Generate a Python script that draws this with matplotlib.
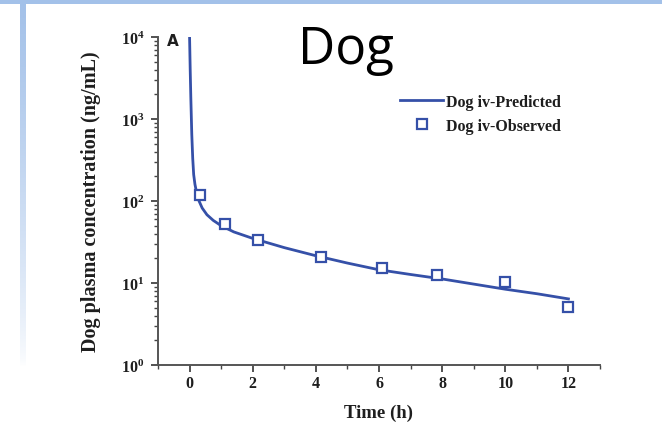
import numpy as np
import matplotlib
matplotlib.use("Agg")
import matplotlib.pyplot as plt
from matplotlib.ticker import LogLocator, MultipleLocator, FixedLocator, NullFormatter

plt.rcParams["mathtext.fontset"] = "custom"
plt.rcParams["mathtext.bf"] = "Liberation Serif:bold"
plt.rcParams["mathtext.rm"] = "Liberation Serif:bold"
plt.rcParams["mathtext.it"] = "Liberation Serif:bold"

# Observed dog plasma concentrations after iv dosing
obs_time = [0.33, 1.13, 2.16, 4.15, 6.1, 7.83, 10.0, 12.0]
obs_conc = [118, 53, 33, 20.5, 15.4, 12.4, 10.4, 5.1]

# Model-predicted profile
pred_time = [0, 0.02, 0.04, 0.07, 0.1, 0.13, 0.17, 0.22, 0.3, 0.4, 0.55, 0.75,
             1.0, 1.4, 2.0, 3.0, 4.0, 5.0, 6.0, 7.0, 8.0, 9.0, 10.0, 11.0, 12.0]
pred_conc = [10000, 4000, 1800, 650, 330, 210, 160, 128, 100, 82, 68, 58,
             50, 42, 35, 27, 21.5, 17.5, 14.5, 12.7, 11.2, 9.7, 8.4, 7.4, 6.4]

x_ticks = [0, 2, 4, 6, 8, 10, 12]
y_ticks = [1, 10, 100, 1000, 10000]
y_tick_labels = [r"$\mathbf{10^{0}}$", r"$\mathbf{10^{1}}$", r"$\mathbf{10^{2}}$",
                 r"$\mathbf{10^{3}}$", r"$\mathbf{10^{4}}$"]

BLUE = "#3550a8"
SLIDE_BLUE = "#a3c1e9"
TEXT = "#1e1e1e"
W, H = 662, 427

fig = plt.figure(figsize=(W / 100, H / 100), dpi=100)
fig.patch.set_facecolor("white")

# Slide decoration: top band and fading left bar
bg = fig.add_axes([0, 0, 1, 1])
bg.set_xlim(0, W)
bg.set_ylim(H, 0)
bg.axis("off")
bg.add_patch(plt.Rectangle((0, 0), W, 4.5, color=SLIDE_BLUE, lw=0))
grad = np.linspace(0, 1, 256).reshape(-1, 1)
rgb = np.array(matplotlib.colors.to_rgb(SLIDE_BLUE))
img = np.ones((256, 1, 4))
img[..., :3] = rgb
img[..., 3] = (1 - grad) ** 0.7
bg.imshow(img, extent=(20, 26, 368, 4), aspect="auto", interpolation="bilinear")

serif = "Liberation Serif"
ax = fig.add_axes([158 / W, 1 - 366 / H, 442 / W, 328 / H])
ax.set_yscale("log")
ax.set_xlim(-1, 13)
ax.set_ylim(1, 10000)

ax.plot(pred_time, pred_conc, color=BLUE, lw=2, solid_joinstyle="round",
        label="Dog iv-Predicted", zorder=3)
ax.plot(obs_time, obs_conc, ls="none", marker="s", ms=7.5, mfc="white",
        mec=BLUE, mew=1.6, label="Dog iv-Observed", zorder=4)

for s in ["top", "right"]:
    ax.spines[s].set_visible(False)
for s in ["left", "bottom"]:
    ax.spines[s].set_color("#555555")
    ax.spines[s].set_linewidth(1.4)

ax.xaxis.set_major_locator(FixedLocator(x_ticks))
ax.xaxis.set_minor_locator(MultipleLocator(1))
ax.yaxis.set_major_locator(FixedLocator(y_ticks))
ax.yaxis.set_minor_locator(LogLocator(base=10, subs=np.arange(2, 10), numticks=20))
ax.yaxis.set_minor_formatter(NullFormatter())
ax.set_yticklabels(y_tick_labels)
ax.set_xticklabels([str(v) for v in x_ticks])
ax.tick_params(which="major", direction="out", length=5, width=1.3, color="#444444")
ax.tick_params(axis="x", which="major", labelsize=11.5, pad=2.5)
ax.tick_params(axis="y", which="major", labelsize=11.5, pad=5)
ax.tick_params(which="minor", direction="out", length=3, width=1.0, color="#444444")
for lbl in ax.get_xticklabels() + ax.get_yticklabels():
    lbl.set_fontfamily(serif)
    lbl.set_fontweight("bold")
    lbl.set_color(TEXT)

ax.set_xlabel("Time (h)", fontfamily=serif, fontweight="bold", fontsize=13.5,
              color=TEXT, labelpad=9)
ax.set_ylabel("Dog plasma concentration (ng/mL)", fontfamily=serif, fontweight="bold",
              fontsize=14.5, color=TEXT, labelpad=14)

ax.text(0.02, 1.012, "A", transform=ax.transAxes, fontfamily="DejaVu Sans",
        fontweight="bold", fontsize=11, va="top", ha="left", color=TEXT)

leg = ax.legend(loc="upper left", bbox_to_anchor=(400 / W, 1 - 95 / H),
                bbox_transform=fig.transFigure, frameon=False,
                borderpad=0, borderaxespad=0,
                prop={"family": serif, "weight": "bold", "size": 11.5},
                handlelength=2.7, handletextpad=0.15, labelspacing=0.5)
for t in leg.get_texts():
    t.set_color(TEXT)

fig.text(346 / W, 1 - 50 / H, "Dog", fontfamily="Open Sans", fontsize=37,
         ha="center", va="center", color="black")

fig.savefig("out.png", dpi=100)
